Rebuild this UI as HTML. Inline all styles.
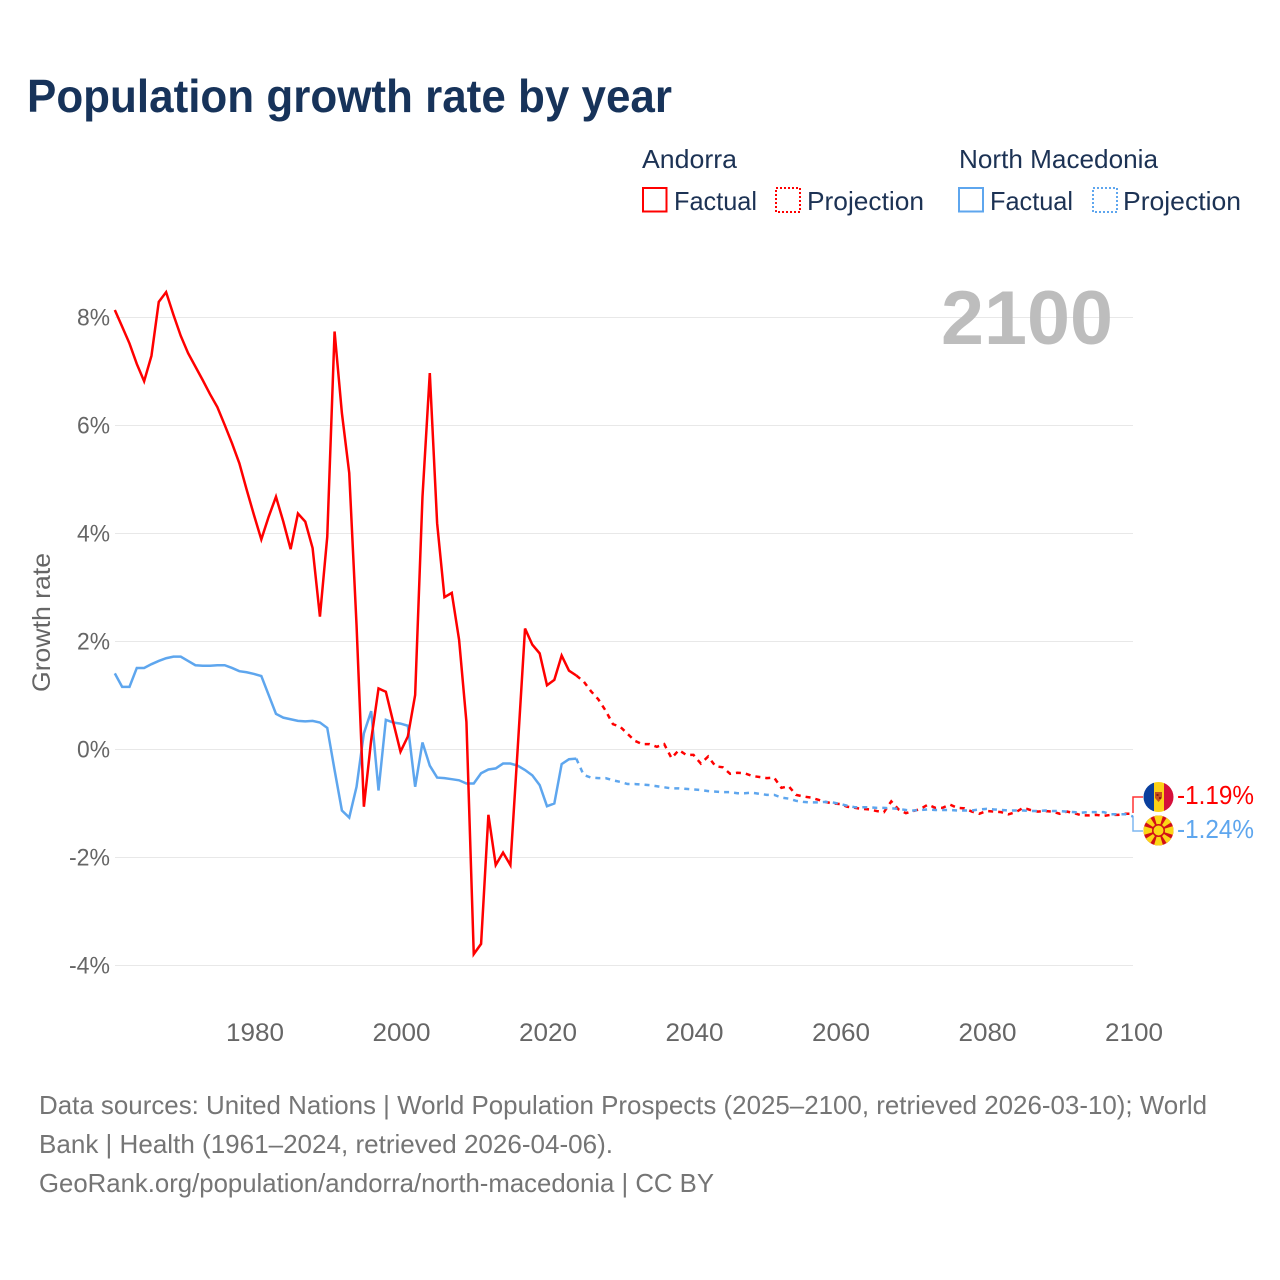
<!DOCTYPE html>
<html lang="en">
<head>
<meta charset="utf-8">
<title>Population growth rate by year</title>
<style>
html,body{margin:0;padding:0;background:#fff;width:1280px;height:1280px;overflow:hidden}
svg{display:block}
text{font-family:"Liberation Sans",sans-serif}
</style>
</head>
<body>
<svg id="chart" xmlns="http://www.w3.org/2000/svg" width="1280" height="1280" viewBox="0 0 1280 1280">
  <rect width="1280" height="1280" fill="#fff"/>
  <text x="27" y="112" font-size="46" font-weight="700" fill="#17335a" textLength="645" lengthAdjust="spacingAndGlyphs">Population growth rate by year</text>

  <g font-size="26" fill="#1c3254">
    <text x="642" y="168" textLength="95" lengthAdjust="spacingAndGlyphs">Andorra</text>
    <text x="959" y="168" textLength="199" lengthAdjust="spacingAndGlyphs">North Macedonia</text>
    <rect x="643" y="188" width="23.5" height="23.5" fill="none" stroke="#ff0000" stroke-width="2"/>
    <text x="674" y="210" textLength="83" lengthAdjust="spacingAndGlyphs">Factual</text>
    <rect x="776" y="188" width="24" height="24" fill="none" stroke="#ff0000" stroke-width="2" stroke-dasharray="2,2"/>
    <text x="807" y="210" textLength="117" lengthAdjust="spacingAndGlyphs">Projection</text>
    <rect x="959" y="188" width="24" height="23.5" fill="none" stroke="#5ea6ee" stroke-width="2"/>
    <text x="990" y="210" textLength="83" lengthAdjust="spacingAndGlyphs">Factual</text>
    <rect x="1093" y="188" width="24" height="24" fill="none" stroke="#5ea6ee" stroke-width="2" stroke-dasharray="2,2"/>
    <text x="1123" y="210" textLength="118" lengthAdjust="spacingAndGlyphs">Projection</text>
  </g>

  <g id="grid"></g>
  <text x="941" y="344" font-size="76" font-weight="700" fill="#bdbdbd" textLength="172" lengthAdjust="spacingAndGlyphs">2100</text>
  <g id="yticks" font-size="24" fill="#666666" text-anchor="end"></g>
  <g id="xticks" font-size="25" fill="#666666" text-anchor="middle"></g>
  <text transform="translate(50,692) rotate(-90)" font-size="25" fill="#666666" textLength="139" lengthAdjust="spacingAndGlyphs">Growth rate</text>

  <g id="series" fill="none" stroke-width="2.5" stroke-linejoin="miter"></g>

  <g fill="none" stroke-width="1.5" opacity="0.8">
    <path d="M1133 813V797H1143" stroke="#ff0000"/>
    <path d="M1133 816V831H1143" stroke="#5ea6ee"/>
  </g>

  <defs>
    <clipPath id="clipA"><circle cx="1158.5" cy="797" r="15"/></clipPath>
    <clipPath id="clipM"><circle cx="1158.5" cy="830.5" r="15"/></clipPath>
  </defs>
  <g clip-path="url(#clipA)">
    <rect x="1143" y="782" width="11" height="30" fill="#0a3f9e"/>
    <rect x="1154" y="782" width="10" height="30" fill="#fcd116"/>
    <rect x="1164" y="782" width="10" height="30" fill="#d5103a"/>
    <path d="M1155 792h7v6l-3.500 4-3.500-4z" fill="#c7511e"/>
    <rect x="1156.500" y="794" width="2" height="2" fill="#8c1c13"/>
    <rect x="1159" y="797" width="2" height="2" fill="#8c1c13"/>
  </g>
  <g clip-path="url(#clipM)">
    <rect x="1143" y="815" width="31" height="31" fill="#d20f17"/>
    <g fill="#fbd616">
      <polygon points="1158.500,830.500 1153.500,814 1163.500,814"/>
      <polygon points="1158.500,830.500 1153.500,847 1163.500,847"/>
      <polygon points="1158.500,830.500 1142,825.500 1142,835.500"/>
      <polygon points="1158.500,830.500 1175,825.500 1175,835.500"/>
      <polygon points="1158.500,830.500 1146,811 1139,818"/>
      <polygon points="1158.500,830.500 1171,811 1178,818"/>
      <polygon points="1158.500,830.500 1146,850 1139,843"/>
      <polygon points="1158.500,830.500 1171,850 1178,843"/>
    </g>
    <circle cx="1158.500" cy="830.500" r="6.500" fill="#d20f17"/>
    <circle cx="1158.500" cy="830.500" r="5" fill="#fbd616"/>
  </g>
  <text x="1177" y="804" font-size="26" fill="#ff0000" textLength="77" lengthAdjust="spacingAndGlyphs">-1.19%</text>
  <text x="1177" y="838" font-size="26" fill="#5ea6ee" textLength="77" lengthAdjust="spacingAndGlyphs">-1.24%</text>

  <g font-size="26" fill="#757575">
    <text x="39" y="1114" textLength="1168" lengthAdjust="spacingAndGlyphs">Data sources: United Nations | World Population Prospects (2025–2100, retrieved 2026-03-10); World</text>
    <text x="39" y="1153" textLength="574" lengthAdjust="spacingAndGlyphs">Bank | Health (1961–2024, retrieved 2026-04-06).</text>
    <text x="39" y="1192" textLength="675" lengthAdjust="spacingAndGlyphs">GeoRank.org/population/andorra/north-macedonia | CC BY</text>
  </g>
</svg>
<script>
const factualStartYear = 1961;
const projectionStartYear = 2024;
const andorraFactual = [8.14,7.83,7.52,7.14,6.82,7.29,8.29,8.47,8.05,7.66,
  7.34,7.09,6.84,6.58,6.34,6.01,5.67,5.30,4.81,4.34,
  3.89,4.31,4.68,4.22,3.71,4.37,4.22,3.73,2.46,3.94,
  7.74,6.23,5.12,2.30,-1.06,0.18,1.13,1.07,0.51,-0.04,
  0.24,1.01,4.68,6.97,4.19,2.82,2.90,2.03,0.51,-3.79,
  -3.60,-1.21,-2.14,-1.91,-2.14,0.02,2.24,1.94,1.78,1.19,
  1.29,1.74,1.46,1.37];
const andorraProjection = [1.37,1.26,1.08,0.93,0.72,0.47,0.42,0.29,0.16,0.10,0.10,0.05,0.10,-0.16,-0.01,-0.10,-0.10,-0.26,-0.13,-0.31,-0.33,
  -0.45,-0.43,-0.44,-0.49,-0.51,-0.53,-0.52,-0.71,-0.68,-0.84,-0.87,-0.89,-0.93,-0.97,-1.00,-1.01,-1.06,-1.08,
  -1.10,-1.11,-1.14,-1.16,-0.96,-1.11,-1.18,-1.14,-1.10,-1.02,-1.08,-1.08,-1.02,-1.08,-1.09,-1.15,-1.19,-1.14,-1.15,-1.16,-1.20,-1.16,-1.08,-1.12,
  -1.15,-1.14,-1.15,-1.19,-1.15,-1.18,-1.22,-1.22,-1.21,-1.23,-1.21,-1.21,-1.19,-1.19];
const macedoniaFactual = [1.41,1.16,1.16,1.51,1.51,1.58,1.64,1.69,1.72,1.72,
  1.64,1.56,1.55,1.55,1.56,1.56,1.51,1.45,1.43,1.40,
  1.36,1.01,0.66,0.59,0.56,0.53,0.52,0.53,0.50,0.40,
  -0.38,-1.13,-1.26,-0.69,0.30,0.71,-0.76,0.55,0.50,0.48,
  0.44,-0.69,0.13,-0.30,-0.52,-0.53,-0.55,-0.57,-0.63,-0.63,
  -0.44,-0.37,-0.35,-0.26,-0.26,-0.30,-0.38,-0.48,-0.66,-1.05,
  -1.00,-0.27,-0.18,-0.17];
const macedoniaProjection = [-0.17,-0.47,-0.52,-0.53,-0.53,-0.57,-0.60,-0.64,-0.64,-0.65,-0.66,-0.68,-0.70,-0.72,-0.72,-0.73,-0.74,-0.75,-0.77,-0.78,-0.79,
  -0.79,-0.81,-0.81,-0.80,-0.82,-0.84,-0.84,-0.89,-0.91,-0.95,-0.97,-0.98,-0.98,-0.97,-0.98,-1.01,-1.04,-1.07,
  -1.07,-1.07,-1.08,-1.08,-1.09,-1.10,-1.12,-1.13,-1.12,-1.11,-1.12,-1.12,-1.12,-1.13,-1.13,-1.13,-1.11,-1.10,-1.11,-1.12,-1.13,-1.13,-1.13,-1.14,
  -1.14,-1.13,-1.14,-1.14,-1.15,-1.16,-1.17,-1.16,-1.16,-1.16,-1.20,-1.20,-1.20,-1.24];
const yTickValues = [8,6,4,2,0,-2,-4];
const yTickLabels = ["8%","6%","4%","2%","0%","-2%","-4%"];
const xTickValues = [1980,2000,2020,2040,2060,2080,2100];
const xTickLabels = ["1980","2000","2020","2040","2060","2080","2100"];

const NS = "http://www.w3.org/2000/svg";
function xScale(year){ return 254 + (year - 1980) * 7.325; }
function yScale(v){ return 749.5 - v * 54; }
function makeEl(tag, parent){ const el = document.createElementNS(NS, tag); parent.appendChild(el); return el; }

const grid = document.getElementById("grid");
const yticks = document.getElementById("yticks");
const xticks = document.getElementById("xticks");
const series = document.getElementById("series");

yTickValues.forEach(function(v, i){
  const line = makeEl("line", grid);
  
  
  line.setAttribute("x1", 115);
  line.setAttribute("x2", 1133);
  line.setAttribute("y1", yScale(v));
  line.setAttribute("y2", yScale(v));
  line.setAttribute("stroke", "#e8e8e8");
  line.setAttribute("stroke-width", "1");
  const t = makeEl("text", yticks);
  
  
  t.setAttribute("x", 110);
  t.setAttribute("y", yScale(v) + 8);
  t.setAttribute("textLength", yTickLabels[i].length === 2 ? 33 : 41);
  t.setAttribute("lengthAdjust", "spacingAndGlyphs");
  t.textContent = yTickLabels[i];
});

xTickValues.forEach(function(v, i){
  const t = makeEl("text", xticks);
  
  
  t.setAttribute("x", xScale(v) + 1);
  t.setAttribute("y", 1041);
  t.setAttribute("textLength", 58);
  t.setAttribute("lengthAdjust", "spacingAndGlyphs");
  t.textContent = xTickLabels[i];
});

function drawSeries(values, startYear, color, dashed, name){
  const p = makeEl("polyline", series);
  
  
  p.setAttribute("points", values.map(function(v, i){
    return xScale(startYear + i).toFixed(2) + "," + yScale(v).toFixed(2);
  }).join(" "));
  p.setAttribute("stroke", color);
  if (dashed) { p.setAttribute("stroke-dasharray", "5,5"); }
}

drawSeries(macedoniaFactual, factualStartYear, "#5ea6ee", false, "line-macedonia-factual");
drawSeries(andorraFactual, factualStartYear, "#ff0000", false, "line-andorra-factual");
drawSeries(andorraProjection, projectionStartYear, "#ff0000", true, "line-andorra-projection");
drawSeries(macedoniaProjection, projectionStartYear, "#5ea6ee", true, "line-macedonia-projection");
</script>
</body>
</html>
